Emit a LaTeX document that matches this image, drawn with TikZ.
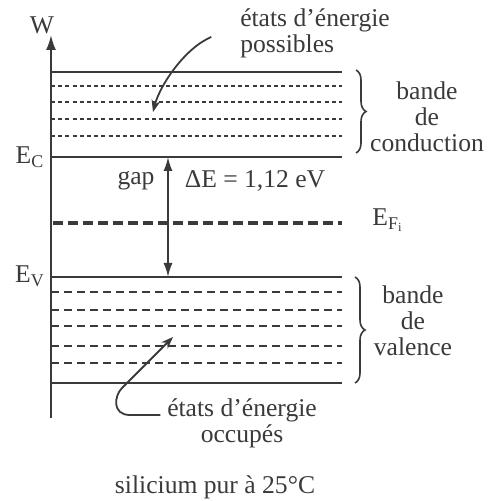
\documentclass[tikz,border=0pt]{standalone}
\usepackage{fontspec}
\setmainfont{Liberation Serif}
\usetikzlibrary{arrows.meta, decorations.pathreplacing}
\definecolor{cink}{HTML}{3A3A3A}
\tikzset{
  every picture/.style={x=0.5pt, y=-0.5pt, line width=1pt, color=cink, font=\fontsize{12.8}{13}\selectfont},
  lbl/.style={inner sep=1pt},
  note/.style={inner sep=1pt, align=center},
  band/.style={line width=1pt},
  cstate/.style={line width=0.8pt, dash pattern=on 2pt off 1.6pt},
  vstate/.style={line width=0.8pt, dash pattern=on 4pt off 2.5pt},
  fermi/.style={line width=1.6pt, dash pattern=on 5pt off 2.5pt},
  axis/.style={-{Latex[length=7.5pt, width=5pt]}, line width=1pt},
  gaparrow/.style={{Latex[length=7pt, width=4.5pt]}-{Latex[length=7pt, width=4.5pt]}, line width=0.9pt},
  pointer/.style={-{Stealth[length=6pt, width=4.5pt]}, line width=0.9pt},
  bandbrace/.style={decorate, decoration={brace, amplitude=5pt}, line width=0.8pt},
}

\begin{document}
\begin{tikzpicture}
  \useasboundingbox (0,0) rectangle (497,501);

  % energy axis
  \coordinate (o) at (51,418);
  \coordinate (wtop) at (51,35);
  \draw[axis] (o) -- (wtop);
  \node[lbl] (w) at (42,25) {W};

  % conduction band
  \draw[band] (51,72) -- (342,72);
  \draw[cstate] (51,86) -- (342,86);
  \draw[cstate] (51,102) -- (342,102);
  \draw[cstate] (51,119) -- (342,119);
  \draw[cstate] (51,136) -- (342,136);
  \draw[band] (51,157) -- (342,157);
  \node[lbl] (ec) at (30,157) {E\textsubscript{C}};

  % intrinsic Fermi level
  \draw[fermi] (53,223) -- (342,223);
  \node[lbl] (efi) at (388,220) {E\textsubscript{F\textsubscript{i}}};

  % valence band
  \draw[band] (51,277) -- (342,277);
  \draw[vstate] (51,292) -- (342,292);
  \draw[vstate] (51,310) -- (342,310);
  \draw[vstate] (51,326) -- (342,326);
  \draw[vstate] (51,346) -- (342,346);
  \draw[vstate] (51,363) -- (342,363);
  \draw[band] (51,383) -- (342,383);
  \node[lbl] (ev) at (30,276) {E\textsubscript{V}};

  % gap
  \coordinate (gc) at (168,157);
  \coordinate (gv) at (168,277);
  \draw[gaparrow] (gc) -- (gv);
  \node[lbl] (gap) at (136,181) {gap};
  \node[lbl] (de) at (255,181) {ΔE = 1,12 eV};

  % braces
  \draw[bandbrace] (356,70) -- (356,153);
  \node[note] (cond) at (427,117) {bande\\de\\conduction};
  \draw[bandbrace] (355,277) -- (355,383);
  \node[note] (val) at (413,321) {bande\\de\\valence};

  % states
  \node[note, align=left] (poss) at (315,33) {états d'énergie\\possibles};
  \draw[pointer] ([xshift=-13pt, yshift=-2pt]poss.west) .. controls (185,48) and (160,85) .. (153,112);
  \node[note] (occ) at (242,423) {états d'énergie\\occupés};
  \draw[pointer] ([xshift=-2pt, yshift=4pt]occ.west) -- (130,415) .. controls (112,415) and (114,396) .. (122,388) -- (173,337);

  \node[lbl] (si) at (215,487) {silicium pur à 25°C};
\end{tikzpicture}
\end{document}
